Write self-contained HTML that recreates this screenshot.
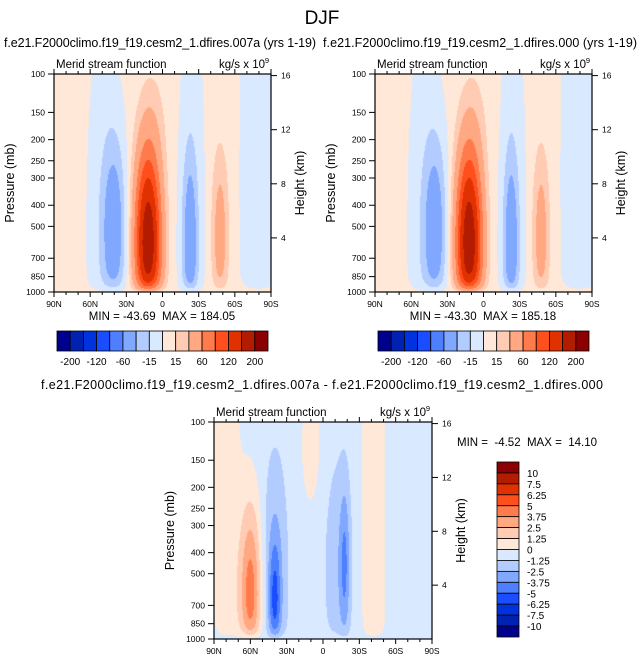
<!DOCTYPE html>
<html><head><meta charset="utf-8">
<style>
body{margin:0;background:#fff;width:643px;height:663px;position:relative;overflow:hidden;font-family:"Liberation Sans",sans-serif}
canvas{position:absolute}
svg{position:absolute;left:0;top:0}
</style></head>
<body>
<canvas id="c1" style="left:54px;top:74px" width="217" height="218"></canvas>
<canvas id="c2" style="left:375px;top:74px" width="217" height="218"></canvas>
<canvas id="c3" style="left:214px;top:422px" width="218" height="217"></canvas>
<svg id="s" width="643" height="663" font-family="Liberation Sans, sans-serif">
<text x="322" y="24" font-size="19" text-anchor="middle">DJF</text>
<text x="160" y="47" font-size="12.5" text-anchor="middle" textLength="312">f.e21.F2000climo.f19_f19.cesm2_1.dfires.007a (yrs 1-19)</text>
<text x="480" y="47" font-size="12.5" text-anchor="middle" textLength="314">f.e21.F2000climo.f19_f19.cesm2_1.dfires.000 (yrs 1-19)</text>
<text x="322" y="389" font-size="12.5" text-anchor="middle" textLength="562">f.e21.F2000climo.f19_f19.cesm2_1.dfires.007a - f.e21.F2000climo.f19_f19.cesm2_1.dfires.000</text>
</svg>
<script>
// ---- data ----
const latTicks = [90,60,30,0,-30,-60,-90];
const latTickLabels = ["90N","60N","30N","0","30S","60S","90S"];
const presTicks = [100,150,200,250,300,400,500,700,850,1000];
const heightTicks = [4,8,12,16];
const levelsTop = [-200,-160,-120,-90,-60,-30,-15,0,15,30,60,90,120,160,200];
const topBarLabels = ["-200","-120","-60","-15","15","60","120","200"];
const levelsDiff = [-10,-7.5,-6.25,-5,-3.75,-2.5,-1.25,0,1.25,2.5,3.75,5,6.25,7.5,10];
const diffBarLabels = ["10","7.5","6.25","5","3.75","2.5","1.25","0","-1.25","-2.5","-3.75","-5","-6.25","-7.5","-10"];
const palette = ["#00008f","#0022b3","#0033dd","#1a4dff","#4d7fff","#80a8ff","#b3ccff","#d9e9ff","#ffe8d8","#ffcbb2","#ffa882","#ff7b4c","#ff4f1c","#e03200","#b31c00","#8b0000"];
// blobs: [lat, pressure(mb), latWidth, logpWidth, amplitude]
const blobs1Lat = [12,40,50,-23,-24,-48,-80,5];
const blobs1P   = [600,520,600,620,600,560,500,150];
const blobs1SL  = [7.5,7,9,4.5,8,5,12,9];
const blobs1SY  = [0.3,0.3,0.7,0.3,0.8,0.28,1.5,0.2];
const blobs1A   = [190,-46,-12,-42,-12,38,-10,6];
const bg1 = 4;
const blobs2A   = [191,-45,-12,-42,-12,38,-10,6];
const blobsDLat = [60,40,40,-18,-12,-42,80,10,-75];
const blobsDP   = [620,680,520,450,480,500,500,130,500];
const blobsDSL  = [6.5,3.5,7.5,3,8,7,8,6,10];
const blobsDSY  = [0.3,0.2,0.4,0.25,0.38,2,2,0.2,2];
const blobsDA   = [5,-3.2,-2,-2.6,-1.4,1.6,1.4,1.3,-0.3];
const bgD = -0.6;

function ycoord(p){return Math.log10(p/100);}
function field(lat,y,L,P,SL,SY,A,bg){
  let f=0;
  for(let i=0;i<L.length;i++){
    const dx=(lat-L[i])/SL[i], dy=(y-ycoord(P[i]))/SY[i];
    f+=A[i]*Math.exp(-0.5*(dx*dx+dy*dy));
  }
  const taper=1-Math.exp(-(1.005-y)/0.035);
  return bg+f*taper;
}
function colorIdx(v,lev){let k=0;while(k<lev.length&&v>=lev[k])k++;return k;}
function hex(h){return [parseInt(h.substr(1,2),16),parseInt(h.substr(3,2),16),parseInt(h.substr(5,2),16)];}
const rgb=palette.map(hex);
function drawField(id,L,P,SL,SY,A,bg,lev){
  const c=document.getElementById(id),ctx=c.getContext('2d');
  const w=c.width,h=c.height,img=ctx.createImageData(w,h);
  for(let j=0;j<h;j++){const y=j/(h-1);
    for(let i=0;i<w;i++){const lat=90-180*i/(w-1);
      const v=field(lat,y,L,P,SL,SY,A,bg);const col=rgb[colorIdx(v,lev)];
      const o=(j*w+i)*4;img.data[o]=col[0];img.data[o+1]=col[1];img.data[o+2]=col[2];img.data[o+3]=255;}}
  ctx.putImageData(img,0,0);
}
drawField('c1',blobs1Lat,blobs1P,blobs1SL,blobs1SY,blobs1A,bg1,levelsTop);
drawField('c2',blobs1Lat,blobs1P,blobs1SL,blobs1SY,blobs2A,bg1,levelsTop);
drawField('c3',blobsDLat,blobsDP,blobsDSL,blobsDSY,blobsDA,bgD,levelsDiff);

const svg=document.getElementById('s'),NS="http://www.w3.org/2000/svg";
function el(tag,attrs,parent){const e=document.createElementNS(NS,tag);for(const k in attrs)e.setAttribute(k,attrs[k]);(parent||svg).appendChild(e);return e;}
function txt(x,y,s,size,anchor,parent){const t=el('text',{x:x,y:y,'font-size':size,'text-anchor':anchor||'middle'},parent);t.textContent=s;return t;}

function panel(x0,y0,w,h,name){
  const g=el('g',{});
  
  
  const xs=lat=>x0+(90-lat)/180*w, ys=p=>y0+ycoord(p)*h;
  el('rect',{x:x0,y:y0,width:w,height:h,fill:'none',stroke:'#000','stroke-width':1.2},g);
  for(let lat=90;lat>=-90;lat-=10){const X=xs(lat),L=(lat%30===0)?5:3;
    el('line',{x1:X,y1:y0+h,x2:X,y2:y0+h+L,stroke:'#000'},g);
    el('line',{x1:X,y1:y0,x2:X,y2:y0-L,stroke:'#000'},g);}
  latTicks.forEach((lat,i)=>{const t=txt(xs(lat),y0+h+15,latTickLabels[i],8.5,'middle',g);
    });
  presTicks.forEach(p=>{const Y=ys(p);el('line',{x1:x0-6,y1:Y,x2:x0,y2:Y,stroke:'#000'},g);
    const t=txt(x0-9,Y+3,String(p),8.5,'end',g);
    });
  heightTicks.forEach(z=>{const Y=ys(1000*Math.exp(-z/7));
    el('line',{x1:x0+w,y1:Y,x2:x0+w+6,y2:Y,stroke:'#000'},g);
    const t=txt(x0+w+10,Y+3,String(z),8.5,'start',g);
    });
  const a=txt(x0+2,y0-6,'Merid stream function',11.5,'start',g);
  
  const u=txt(x0+w-6,y0-6,'kg/s x 10',11.5,'end',g);
  
  txt(x0+w-2,y0-11,'9',7.5,'end',g);
  const py=txt(0,0,'Pressure (mb)',12.5,'middle',g);
  py.setAttribute('transform',`translate(${x0-40},${y0+h/2}) rotate(-90)`);
  
  const hy=txt(0,0,'Height (km)',12.5,'middle',g);
  hy.setAttribute('transform',`translate(${x0+w+33},${y0+h/2}) rotate(-90)`);
  
}
panel(54,74,217,218,'left-panel');
panel(375,74,217,218,'right-panel');
panel(214,422,218,217,'diff-panel');

function minmax(x,y,s,name){const t=txt(x,y,s,11.5,'middle');}
minmax(162,320,'MIN = -43.69\u00a0\u00a0MAX = 184.05','left-minmax');
minmax(483,320,'MIN = -43.30\u00a0\u00a0MAX = 185.18','right-minmax');
minmax(527,446,'MIN = \u00a0-4.52\u00a0\u00a0MAX = \u00a014.10','diff-minmax');

function hbar(x0,y0,w,h,name){
  const g=el('g',{});
  
  
  const bw=w/palette.length;
  palette.forEach((c,i)=>{const r=el('rect',{x:x0+i*bw,y:y0,width:bw,height:h,fill:c,stroke:'#000','stroke-width':0.8},g);
    });
  topBarLabels.forEach((s,k)=>{const t=txt(x0+(2*k+1)*bw,y0+h+14,s,10,'middle',g);
    });
}
hbar(57,331,211,20,'left-colorbar');
hbar(378,331,211,20,'right-colorbar');

(function(){
  const x0=497,y0=462,w=22,h=175,g=el('g',{});
  
  
  const bh=h/palette.length;
  palette.slice().reverse().forEach((c,i)=>{const r=el('rect',{x:x0,y:y0+i*bh,width:w,height:bh,fill:c,stroke:'#000','stroke-width':0.8},g);
    });
  diffBarLabels.forEach((s,k)=>{const t=txt(x0+w+8,y0+(k+1)*bh+4,s,10,'start',g);
    });
})();
</script>
</body></html>
